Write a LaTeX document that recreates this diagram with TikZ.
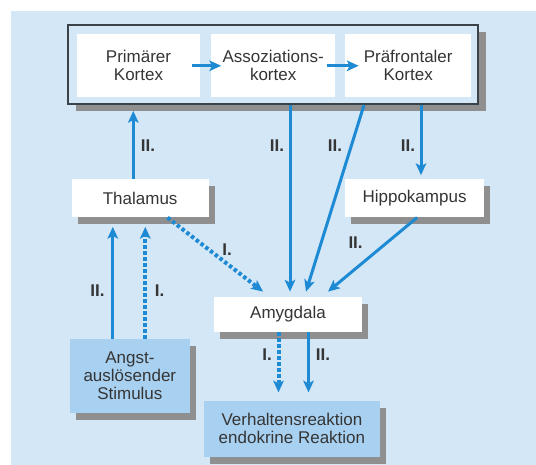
\documentclass[tikz,border=0pt]{standalone}
\usepackage{fontspec}
\setmainfont{Liberation Sans}
\usetikzlibrary{arrows.meta,shadows}
\definecolor{bgc}{HTML}{D4E7F7}
\definecolor{arrowc}{HTML}{1E8AD3}
\definecolor{boxblue}{HTML}{A8D0F0}
\definecolor{shadowc}{HTML}{8F8F8F}
\definecolor{framec}{HTML}{3B4248}
\definecolor{textc}{HTML}{353535}
\begin{document}
\begin{tikzpicture}[x=1pt,y=1pt,
  txt/.style={font=\fontsize{17}{18}\selectfont, text=textc, align=center, inner sep=0pt},
  ibox/.style={txt, fill=white},
  wbox/.style={txt, fill=white, drop shadow={shadow xshift=6pt,shadow yshift=-7pt,fill=shadowc,opacity=1}},
  bbox/.style={wbox, fill=boxblue},
  framebox/.style={draw=framec, line width=2pt, fill=bgc, inner sep=0pt,
    drop shadow={shadow xshift=8pt,shadow yshift=-7pt,fill=shadowc,opacity=1}},
  lbl/.style={font=\bfseries\fontsize{17}{18}\selectfont, text=textc, inner sep=0pt},
  arr/.style={draw=arrowc, line width=3pt, -{Stealth[length=12pt,width=11pt,inset=3pt,line width=0pt]}},
  darr/.style={arr, line width=4pt, dash pattern=on 3.5pt off 2.5pt}
]
\useasboundingbox (0,0) rectangle (536,465);
\fill[bgc] (11,0) rectangle (536,454);

\node[framebox, minimum width=410pt, minimum height=78.5pt] (frame) at (273,400.25) {};
\node[ibox, minimum width=123pt, minimum height=63pt] (prim) at (138.5,399.2) {Primärer\\Kortex};
\node[ibox, minimum width=123.7pt, minimum height=63pt] (assoz) at (273.15,399.2) {Assoziations-\\kortex};
\node[ibox, minimum width=125.8pt, minimum height=63pt] (praef) at (408.2,399.2) {Präfrontaler\\Kortex};

\node[wbox, minimum width=136.7pt, minimum height=38.6pt] (thal) at (140.15,266.9) {Thalamus};
\node[wbox, minimum width=138.5pt, minimum height=38.6pt] (hipp) at (414.55,266.9) {Hippokampus};
\node[wbox, minimum width=148.7pt, minimum height=35.4pt] (amyg) at (288,150.5) {Amygdala};
\node[bbox, minimum width=119.7pt, minimum height=73.6pt] (stim) at (129.85,89.2) {Angst-\\auslösender\\Stimulus};
\node[bbox, minimum width=175.1pt, minimum height=56.4pt] (verh) at (291.95,36.2) {Verhaltensreaktion\\endokrine Reaktion};

% arrows within cortex
\draw[arr] ([xshift=-8pt]prim.east) -- ([xshift=10pt]assoz.west);
\draw[arr] ([xshift=-8.5pt]assoz.east) -- ([xshift=13.5pt]praef.west);
% thalamus -> cortex
\draw[arr] ([xshift=-6.85pt]thal.north) -- ([xshift=-6.85pt,yshift=-6pt]thal.north |- frame.south);
% cortex -> amygdala
\draw[arr] ([xshift=16.85pt]assoz.south |- frame.south) -- ([xshift=16.85pt,yshift=5pt]assoz.south |- amyg.north);
\draw[arr] ([xshift=-44.2pt]praef.south |- frame.south) -- ([xshift=18pt,yshift=5pt]amyg.north);
% cortex -> hippocampus
\draw[arr] ([xshift=12.8pt]praef.south |- frame.south) -- ([xshift=12.8pt,yshift=3.5pt]praef.south |- hipp.north);
% hippocampus -> amygdala
\draw[arr] ([xshift=2.5pt]hipp.south) -- ([xshift=40pt,yshift=5pt]amyg.north);
% thalamus -> amygdala (dashed)
\draw[darr] ([xshift=27.35pt]thal.south) -- ([xshift=-25pt,yshift=5pt]amyg.north);
% stimulus -> thalamus
\draw[arr] ([xshift=-17.05pt]stim.north) -- ([xshift=-17.05pt,yshift=-9.3pt]stim.north |- thal.south);
\draw[darr] ([xshift=15.45pt]stim.north) -- ([xshift=15.45pt,yshift=-9.3pt]stim.north |- thal.south);
% amygdala -> reaction
\draw[darr] ([xshift=-9.5pt]amyg.south) -- ([xshift=-9.5pt,yshift=8pt]amyg.south |- verh.north);
\draw[arr] ([xshift=20.5pt]amyg.south) -- ([xshift=20.5pt,yshift=8pt]amyg.south |- verh.north);

% labels
\node[lbl] (l1) at (148,319) {II.};
\node[lbl] (l2) at (277,319) {II.};
\node[lbl] (l3) at (335,319) {II.};
\node[lbl] (l4) at (408,319) {II.};
\node[lbl] (l5) at (227,215.4) {I.};
\node[lbl] (l6) at (355.6,222.5) {II.};
\node[lbl] (l7) at (97.4,174.6) {II.};
\node[lbl] (l8) at (159.5,174.6) {I.};
\node[lbl] (l9) at (267,110) {I.};
\node[lbl] (l10) at (323,110) {II.};
\end{tikzpicture}
\end{document}
